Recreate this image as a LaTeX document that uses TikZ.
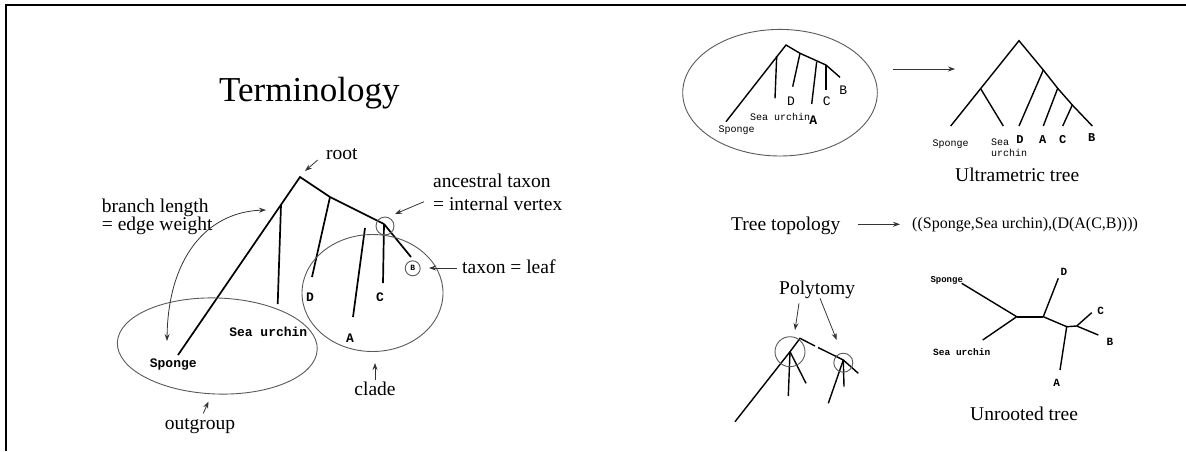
\documentclass[tikz,border=0pt]{standalone}
\usepackage{fontspec}
\setmainfont{Liberation Serif}
\setmonofont{Liberation Mono}
\usetikzlibrary{arrows.meta,shapes.geometric}
\tikzset{
  br/.style={line width=1.7pt},
  thinell/.style={draw=black!65, line width=0.9pt},
  arr/.style={draw=black!80, line width=0.8pt, -{Stealth[length=7pt,width=5pt]}},
  lbl/.style={font=\fontsize{19.5}{22}\selectfont, inner sep=0pt, anchor=base west},
  mono/.style={font=\ttfamily\bfseries\fontsize{13}{15}\selectfont, inner sep=0pt},
  smono/.style={font=\ttfamily\fontsize{10}{11}\selectfont, inner sep=0pt},
  lmono/.style={font=\ttfamily\fontsize{13}{15}\selectfont, inner sep=0pt},
}
\begin{document}
\begin{tikzpicture}[x=1pt,y=-1pt]
\useasboundingbox (0,0) rectangle (1186,451);
\draw[line width=1.4pt] (6,451) -- (6,5) -- (1186,5);

% ---------------- left: terminology ----------------
\node[lbl, font=\fontsize{35}{40}\selectfont] (title) at (219,101.5) {Terminology};

\coordinate (r) at (300,177);
\coordinate (og) at (281,205);
\coordinate (sp) at (178,355);
\coordinate (su) at (277.7,304);
\coordinate (n1) at (330,197);
\coordinate (dd) at (312,277);
\coordinate (an) at (384,224);
\coordinate (aT) at (365,228);
\coordinate (aB) at (353,317);
\coordinate (cc) at (383,283);
\coordinate (bb) at (411,257);
\draw[br] (sp) -- (r) -- (n1) -- (an);
\draw[br] (og) -- (su);
\draw[br] (n1) -- (dd);
\draw[br] (aT) -- (aB);
\draw[br] (an) -- (cc);
\draw[br] (an) -- (bb);

\node[circle, thinell, minimum size=18pt, inner sep=0pt] (ancirc) at (385,226) {};
\node[circle, thinell, minimum size=15pt, inner sep=0pt, font=\ttfamily\bfseries\fontsize{8}{8}\selectfont] (bl) at (412.7,268.3) {B};

\node[mono] (lD) at (310,297.7) {D};
\node[mono] (lC) at (380,297.7) {C};
\node[mono] (lA) at (350,338.3) {A};
\node[mono] (lsu) at (268.3,331.7) {Sea urchin};
\node[mono] (lsp) at (173.3,364.3) {Sponge};

\node[ellipse, thinell, minimum width=200pt, minimum height=96pt, inner sep=0pt, rotate=-2] (outgrp) at (217.3,346) {};
\node[ellipse, thinell, minimum width=141pt, minimum height=117pt, inner sep=0pt] (clade) at (372.5,293) {};

\node[lbl] (bl1) at (101.7,212) {branch length};
\node[lbl] (bl2) at (101.7,230) {= edge weight};
\coordinate (cvA) at (167,341);
\coordinate (cvB) at (266,210);
\draw[arr, {Stealth[length=7pt,width=5pt]}-{Stealth[length=7pt,width=5pt]}] (cvA) .. controls (168,260) and (205,212) .. (cvB);

\node[lbl] (root) at (326,159.5) {root};
\coordinate (rootA) at (317.7,160);
\coordinate (rootB) at (305,171);
\draw[arr] (rootA) -- (rootB);

\node[lbl] (anc1) at (433,187) {ancestral taxon};
\node[lbl] (anc2) at (433,210.5) {= internal vertex};
\coordinate (ancA) at (424,201.7);
\coordinate (ancB) at (395,214);
\draw[arr] (ancA) -- (ancB);

\node[lbl] (leaf) at (462,273) {taxon = leaf};
\coordinate (leafA) at (457,268);
\coordinate (leafB) at (429,268);
\draw[arr] (leafA) -- (leafB);

\node[lbl, anchor=base] (cladel) at (375,395.5) {clade};
\coordinate (cladeA) at (375,380);
\coordinate (cladeB) at (375,363);
\draw[arr] (cladeA) -- (cladeB);

\node[lbl, anchor=base] (outl) at (200,429) {outgroup};
\coordinate (outA) at (203.3,413.3);
\coordinate (outB) at (208.5,401.5);
\draw[arr] (outA) -- (outB);

% ---------------- right top: oval tree -> ultrametric ----------------
\node[ellipse, thinell, minimum width=194.6pt, minimum height=126.6pt, inner sep=0pt] (oval) at (780,92.7) {};
\coordinate (sr) at (786,45);
\coordinate (sl) at (776.7,56);
\coordinate (ssp) at (726,121.7);
\coordinate (ssu) at (775,98.3);
\coordinate (sn1) at (800,53.3);
\coordinate (sn2) at (826,65);
\coordinate (sbb) at (840,77.3);
\coordinate (sdd) at (792.7,86.7);
\coordinate (saT) at (816.7,61.7);
\coordinate (saB) at (811.7,104);
\coordinate (scc) at (826,90);
\draw[br, line width=1.4pt] (ssp) -- (sr) -- (sn1) -- (sn2) -- (sbb);
\draw[br, line width=1.4pt] (sl) -- (ssu);
\draw[br, line width=1.4pt] (sn1) -- (sdd);
\draw[br, line width=1.4pt] (saT) -- (saB);
\draw[br, line width=1.4pt] (sn2) -- (scc);
\node[lmono] (sB) at (843.3,90) {B};
\node[lmono] (sD) at (791,101) {D};
\node[lmono] (sC) at (826.7,101.7) {C};
\node[lmono, font=\ttfamily\bfseries\fontsize{13}{15}\selectfont] (sA) at (813.3,120) {A};
\node[smono] (ssul) at (780,116.7) {Sea urchin};
\node[smono] (sspl) at (736.7,130) {Sponge};

\coordinate (arUa) at (892.7,69);
\coordinate (arUb) at (955,69);
\draw[arr] (arUa) -- (arUb);

\coordinate (ur) at (1019,40.7);
\coordinate (ul) at (981,89.3);
\coordinate (usp) at (950.7,126);
\coordinate (usu) at (1003.3,126);
\coordinate (un1) at (1043.3,70);
\coordinate (un2) at (1057.7,88.3);
\coordinate (un3) at (1072.3,105);
\coordinate (ubb) at (1092.3,126);
\coordinate (udd) at (1019,126);
\coordinate (uaa) at (1043.3,126);
\coordinate (ucc) at (1062.7,126);
\draw[br, line width=1.4pt] (usp) -- (ur) -- (un1) -- (un2) -- (un3) -- (ubb);
\draw[br, line width=1.4pt] (ul) -- (usu);
\draw[br, line width=1.4pt] (un1) -- (udd);
\draw[br, line width=1.4pt] (un2) -- (uaa);
\draw[br, line width=1.4pt] (un3) -- (ucc);
\node[smono] (uspl) at (950.7,144) {Sponge};
\node[smono, align=left] (usul) at (1009,147.5) {Sea\\urchin};
\node[mono, font=\ttfamily\bfseries\fontsize{12}{14}\selectfont] (uD) at (1020,140) {D};
\node[mono, font=\ttfamily\bfseries\fontsize{12}{14}\selectfont] (uA) at (1042.7,140) {A};
\node[mono, font=\ttfamily\bfseries\fontsize{12}{14}\selectfont] (uC) at (1062.7,140) {C};
\node[mono, font=\ttfamily\bfseries\fontsize{12}{14}\selectfont] (uB) at (1091.7,137.3) {B};
\node[lbl] (ultra) at (955,181.5) {Ultrametric tree};

% ---------------- tree topology ----------------
\node[lbl] (topo) at (731,230.5) {Tree topology};
\coordinate (tpA) at (858.3,224.3);
\coordinate (tpB) at (900,224.3);
\draw[arr] (tpA) -- (tpB);
\node[lbl, font=\fontsize{16}{18}\selectfont] (formula) at (912,228) {((Sponge,Sea urchin),(D(A(C,B))))};

% ---------------- polytomy ----------------
\node[lbl] (poly) at (779,294) {Polytomy};
\coordinate (p1a) at (799,303.3);
\coordinate (p1b) at (795,330);
\coordinate (p2a) at (820,298.3);
\coordinate (p2b) at (836.7,340);
\draw[arr] (p1a) -- (p1b);
\draw[arr] (p2a) -- (p2b);

\coordinate (pr) at (800,338.3);
\coordinate (pg1) at (815,346);
\coordinate (pg2) at (818,347.5);
\coordinate (pn1) at (790,351.7);
\coordinate (pn2) at (843.3,360);
\coordinate (pl1) at (735,421.7);
\coordinate (pl2) at (788.3,396);
\coordinate (pl3) at (806,383.3);
\coordinate (pl4) at (858.3,373.3);
\coordinate (pl5) at (844,386.7);
\coordinate (pl6) at (828.3,403.3);
\draw[br, line width=1.4pt] (pg1) -- (pr) -- (pn1) -- (pl1);
\draw[br, line width=1.4pt] (pn1) -- (pl2);
\draw[br, line width=1.4pt] (pn1) -- (pl3);
\draw[br, line width=1.4pt] (pg2) -- (pn2) -- (pl4);
\draw[br, line width=1.4pt] (pn2) -- (pl5);
\draw[br, line width=1.4pt] (pn2) -- (pl6);
\node[circle, thinell, minimum size=30pt, inner sep=0pt] (pc1) at (790,351.7) {};
\node[circle, thinell, minimum size=19pt, inner sep=0pt] (pc2) at (843.3,362.7) {};

% ---------------- unrooted tree ----------------
\coordinate (q1) at (1016.7,316.7);
\coordinate (q2) at (1043.3,316.7);
\coordinate (q3) at (1066.7,326.7);
\coordinate (q4) at (1076.7,326);
\coordinate (qsp) at (961.7,283.3);
\coordinate (qsu) at (982.7,340);
\coordinate (qd) at (1058.3,278.3);
\coordinate (qa) at (1060,370);
\coordinate (qc) at (1091.7,312.7);
\coordinate (qb) at (1098.3,335);
\draw[br, line width=1.4pt] (qsp) -- (q1) -- (qsu);
\draw[br, line width=2pt] (q1) -- (q2);
\draw[br, line width=1.4pt] (q2) -- (qd);
\draw[br, line width=1.4pt] (q2) -- (q3) -- (q4);
\draw[br, line width=1.4pt] (q3) -- (qa);
\draw[br, line width=1.4pt] (q4) -- (qc);
\draw[br, line width=1.4pt] (q4) -- (qb);
\node[smono, font=\ttfamily\bfseries\fontsize{9}{10}\selectfont] (qspl) at (946.7,280.5) {Sponge};
\node[smono, font=\ttfamily\bfseries\fontsize{9.5}{10}\selectfont] (qsul) at (961.7,352.3) {Sea urchin};
\node[mono, font=\ttfamily\bfseries\fontsize{11}{12}\selectfont] (qdl) at (1064,271.7) {D};
\node[mono, font=\ttfamily\bfseries\fontsize{11}{12}\selectfont] (qal) at (1056.7,382.7) {A};
\node[mono, font=\ttfamily\bfseries\fontsize{11}{12}\selectfont] (qcl) at (1100.7,311) {C};
\node[mono, font=\ttfamily\bfseries\fontsize{11}{12}\selectfont] (qbl) at (1110,342.3) {B};
\node[lbl] (unroot) at (970,420.5) {Unrooted tree};
\end{tikzpicture}
\end{document}
